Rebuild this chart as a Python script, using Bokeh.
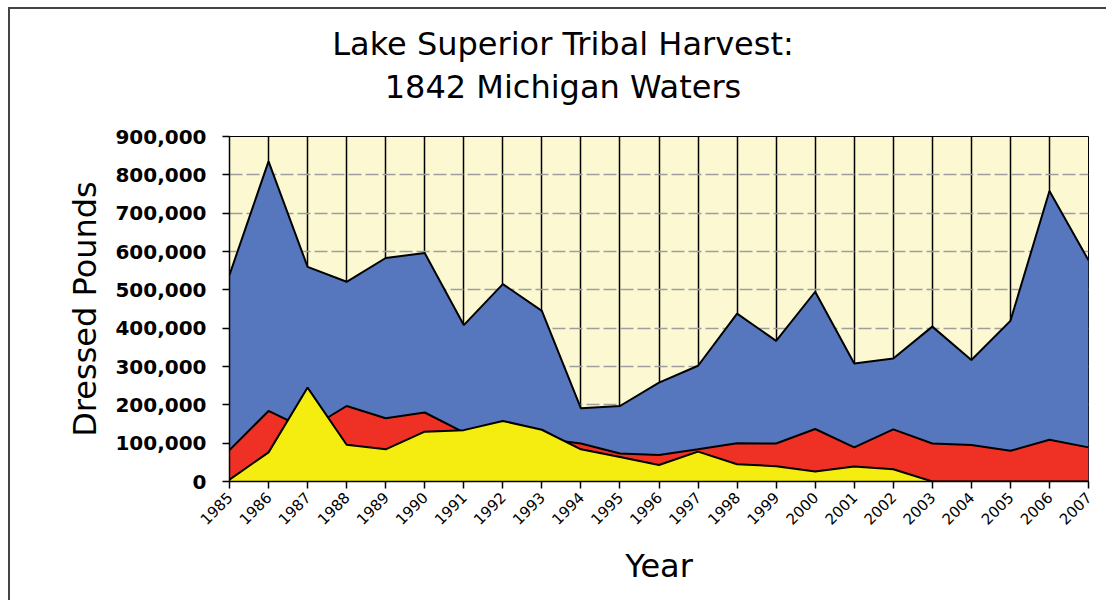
from bokeh.plotting import figure
from bokeh.models import Range1d, FixedTicker, NumeralTickFormatter, Div
from bokeh.layouts import column
from bokeh.embed import file_html
from bokeh.resources import INLINE
import math

years = list(range(1985, 2008))
total_lbs = [539000, 835000, 560000, 521000, 583000, 596000, 408000, 515000, 445000,
             191000, 197000, 258000, 302000, 438000, 367000, 495000, 308000, 321000,
             404000, 317000, 419000, 758000, 577000]
red_lbs = [82000, 184000, 135000, 197000, 165000, 180000, 128000, 125000, 112000,
           99000, 73000, 69000, 84000, 100000, 99000, 137000, 89000, 136000,
           99000, 95000, 80000, 109000, 89000]
yellow_lbs = [5000, 76000, 245000, 96000, 84000, 130000, 134000, 158000, 135000,
              84000, 64000, 43000, 78000, 45000, 40000, 26000, 39000, 32000,
              0, 0, 0, 0, 0]
y_ticks = list(range(0, 900001, 100000))
title_lines = ["Lake Superior Tribal Harvest:", "1842 Michigan Waters"]

FONT = "DejaVu Sans"
W = 1096

title_div = Div(
    text=('<div style="box-sizing:border-box;width:%dpx;padding-left:10px;padding-top:14px;'
          'text-align:center;font-family:\'DejaVu Sans\';font-size:32px;line-height:43px;'
          'color:black;">%s<br>%s</div>') % (W, title_lines[0], title_lines[1]),
    width=W, height=100, margin=0, styles={"overflow": "hidden"})

p = figure(width=W, height=491, output_backend="svg", toolbar_location=None,
           x_range=Range1d(1985, 2007), y_range=Range1d(0, 900000),
           min_border_left=219, min_border_right=18, min_border_top=27,
           min_border_bottom=119)

p.background_fill_color = "#FBF8D2"
p.border_fill_color = "white"
p.outline_line_color = "black"
p.outline_line_width = 1

# areas
p.varea(x=years, y1=0, y2=total_lbs, fill_color="#5677BD")
p.line(x=years, y=total_lbs, line_color="black", line_width=2)
p.varea(x=years, y1=0, y2=red_lbs, fill_color="#EE3124")
p.line(x=years, y=red_lbs, line_color="black", line_width=2)
p.varea(x=years, y1=0, y2=yellow_lbs, fill_color="#F5EC10")
p.line(x=years, y=yellow_lbs, line_color="black", line_width=2)

# axes
p.xaxis.ticker = FixedTicker(ticks=years)
p.yaxis.ticker = FixedTicker(ticks=y_ticks)
p.yaxis.formatter = NumeralTickFormatter(format="0,0")
p.xaxis.major_label_orientation = math.pi / 4
for ax in (p.xaxis, p.yaxis):
    ax.axis_line_color = "black"
    ax.axis_line_width = 1.5
    ax.major_tick_line_color = "black"
    ax.major_tick_line_width = 1.5
    ax.major_tick_out = 7
    ax.major_tick_in = 0
    ax.minor_tick_line_color = None
    ax.major_label_text_font = FONT
    ax.major_label_text_color = "black"
    ax.axis_label_text_font = FONT
    ax.axis_label_text_font_style = "normal"
    ax.axis_label_text_color = "black"

p.yaxis.major_label_text_font_size = "20px"
p.yaxis.major_label_text_font_style = "bold"
p.yaxis.major_label_standoff = 16
p.yaxis.axis_label = "Dressed Pounds"
p.yaxis.axis_label_text_font_size = "32px"
p.yaxis.axis_label_standoff = 8

p.xaxis.major_label_text_font_size = "15px"
p.xaxis.major_label_standoff = 6
p.xaxis.axis_label = "Year"
p.xaxis.axis_label_text_font_size = "32px"
p.xaxis.axis_label_standoff = 14

# grids
p.xgrid.grid_line_color = "black"
p.xgrid.grid_line_width = 1.5
p.ygrid.grid_line_color = "#9E9E9E"
p.ygrid.grid_line_width = 1.5
p.ygrid.grid_line_dash = "13 4"

layout = column(title_div, p, spacing=0,
                styles={"margin-left": "8px", "margin-top": "7px",
                        "border-left": "2px solid #444444",
                        "border-top": "2px solid #444444"})

open("out.html", "w").write(file_html(layout, INLINE))
